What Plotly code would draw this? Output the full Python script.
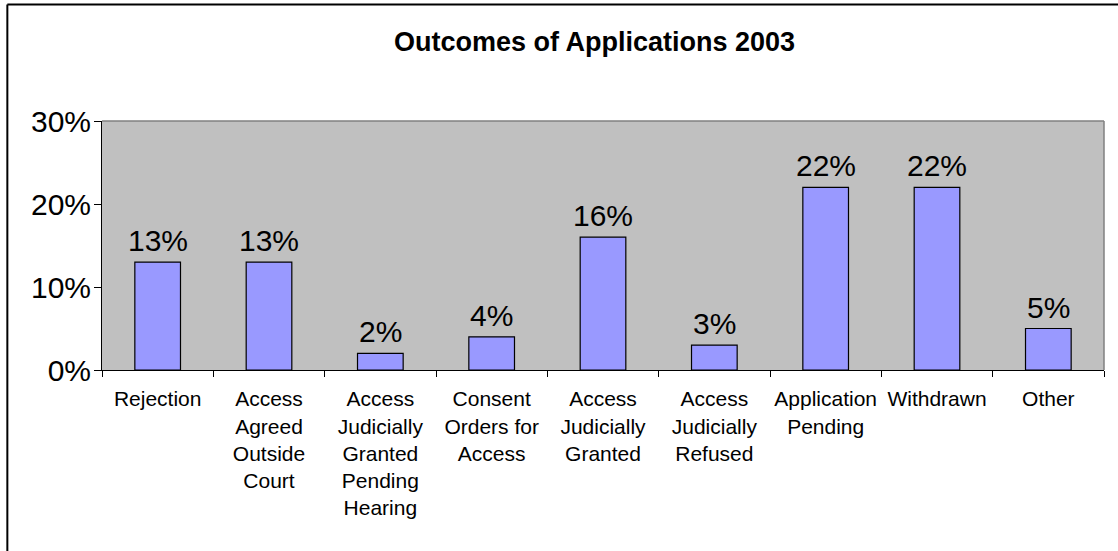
import plotly.graph_objects as go

# Outcomes of applications, share of all applications (%)
categories = [
    "Rejection",
    "Access<br>Agreed<br>Outside<br>Court",
    "Access<br>Judicially<br>Granted<br>Pending<br>Hearing",
    "Consent<br>Orders for<br>Access",
    "Access<br>Judicially<br>Granted",
    "Access<br>Judicially<br>Refused",
    "Application<br>Pending",
    "Withdrawn",
    "Other",
]
shares = [13, 13, 2, 4, 16, 3, 22, 22, 5]
y_ticks = [0, 10, 20, 30]

FONT = "Liberation Sans, Arial, sans-serif"

W, H = 1118, 551
L, R, T, B = 101.5, 14, 121, 180.5
plot_w = W - L - R
plot_h = H - T - B


def px_x(px):
    return (px - L) / plot_w


def px_y(py):
    return 1 - (py - T) / plot_h


fig = go.Figure(
    go.Bar(
        x=categories,
        y=shares,
        marker=dict(color="#9999FF", line=dict(color="#000000", width=1.2)),
        cliponaxis=False,
    )
)

# Value labels above each bar
for cat, v in zip(categories, shares):
    fig.add_annotation(
        x=cat, y=v, xref="x", yref="y",
        text=f"{v}%", showarrow=False,
        xanchor="center", yanchor="bottom", yshift=3,
        font=dict(family=FONT, size=30, color="#000000"),
    )

fig.update_layout(
    width=W,
    height=H,
    margin=dict(l=L, r=R, t=T, b=B, pad=0),
    paper_bgcolor="#FFFFFF",
    plot_bgcolor="#C0C0C0",
    bargap=0.59,
    showlegend=False,
    font=dict(family=FONT, color="#000000"),
    title=dict(
        text="<b>Outcomes of Applications 2003</b>",
        font=dict(family=FONT, size=27, color="#000000"),
        x=594.5 / W,
        xanchor="center",
        y=1 - 42 / H,
        yanchor="middle",
    ),
)

fig.update_xaxes(
    type="category",
    tickangle=0,
    showline=True,
    linecolor="#000000",
    linewidth=1,
    ticks="outside",
    tickson="boundaries",
    ticklen=6,
    tickcolor="#000000",
    ticklabelstandoff=10,
    tickfont=dict(family=FONT, size=21, color="#000000"),
    showgrid=False,
    zeroline=False,
    fixedrange=True,
)

fig.update_yaxes(
    range=[0, 30],
    tickvals=y_ticks,
    ticktext=[f"{v}%" for v in y_ticks],
    showline=True,
    linecolor="#000000",
    linewidth=1,
    ticks="outside",
    ticklen=7,
    tickcolor="#000000",
    ticklabelstandoff=-3,
    tickfont=dict(family=FONT, size=30, color="#000000"),
    showgrid=False,
    zeroline=False,
    fixedrange=True,
)

# Gray frame on the top and right sides of the plot area
fig.add_shape(type="line", xref="paper", yref="paper", x0=0, x1=1, y0=1, y1=1,
              line=dict(color="#808080", width=1.5))
fig.add_shape(type="line", xref="paper", yref="paper", x0=1, x1=1, y0=0, y1=1,
              line=dict(color="#808080", width=1.5))

# Outer chart border (left and top edges run inside the page)
fig.add_shape(type="line", xref="paper", yref="paper",
              x0=px_x(6.8), x1=px_x(6.8), y0=px_y(4.3), y1=px_y(H + 10),
              line=dict(color="#000000", width=2))
fig.add_shape(type="line", xref="paper", yref="paper",
              x0=px_x(6.8), x1=px_x(W + 10), y0=px_y(4.3), y1=px_y(4.3),
              line=dict(color="#000000", width=2))

fig.write_html("out.html")
